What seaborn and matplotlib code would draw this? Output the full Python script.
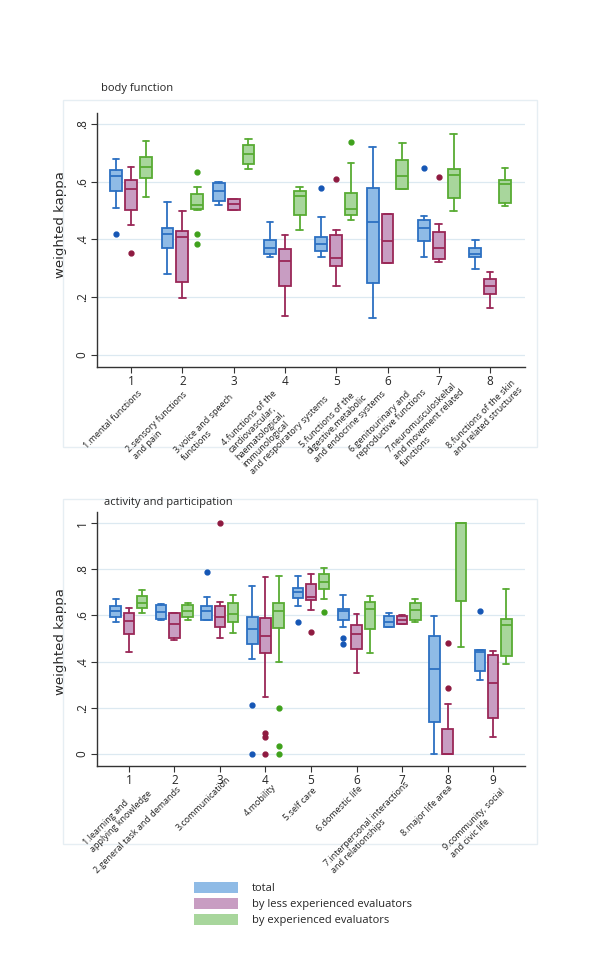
import numpy as np
import matplotlib.pyplot as plt
import seaborn as sns
from matplotlib.patches import Patch, Rectangle

# box statistics: [whisker low, q1, median, q3, whisker high]
bf_total = [[0.509, 0.569, 0.620, 0.640, 0.679],
            [0.279, 0.369, 0.419, 0.439, 0.529],
            [0.518, 0.533, 0.569, 0.595, 0.598],
            [0.339, 0.350, 0.369, 0.398, 0.459],
            [0.339, 0.359, 0.384, 0.409, 0.479],
            [0.129, 0.249, 0.459, 0.578, 0.719],
            [0.339, 0.395, 0.440, 0.469, 0.480],
            [0.299, 0.339, 0.350, 0.369, 0.399]]
bf_total_out = [[0.419], [], [], [], [0.578], [], [0.649], []]
bf_less = [[0.450, 0.503, 0.573, 0.605, 0.650],
           [0.197, 0.252, 0.408, 0.428, 0.498],
           [0.503, 0.503, 0.523, 0.540, 0.540],
           [0.136, 0.239, 0.324, 0.366, 0.417],
           [0.239, 0.308, 0.334, 0.414, 0.431],
           [0.319, 0.319, 0.395, 0.487, 0.487],
           [0.321, 0.332, 0.371, 0.424, 0.454],
           [0.164, 0.211, 0.238, 0.263, 0.286]]
bf_less_out = [[0.353], [], [], [], [0.611], [], [0.616], []]
bf_exp = [[0.548, 0.614, 0.651, 0.685, 0.741],
          [0.503, 0.507, 0.519, 0.556, 0.582],
          [0.644, 0.663, 0.695, 0.726, 0.747],
          [0.433, 0.486, 0.552, 0.568, 0.583],
          [0.466, 0.483, 0.504, 0.561, 0.664],
          [0.576, 0.576, 0.619, 0.676, 0.734],
          [0.500, 0.545, 0.623, 0.645, 0.765],
          [0.516, 0.525, 0.592, 0.606, 0.646]]
bf_exp_out = [[], [0.633, 0.418, 0.384], [], [], [0.739], [], [], []]

ap_total = [[0.570, 0.592, 0.621, 0.640, 0.670],
            [0.580, 0.586, 0.615, 0.644, 0.648],
            [0.580, 0.580, 0.621, 0.640, 0.680],
            [0.410, 0.475, 0.540, 0.595, 0.729],
            [0.640, 0.676, 0.700, 0.719, 0.770],
            [0.551, 0.580, 0.618, 0.630, 0.690],
            [0.551, 0.551, 0.570, 0.599, 0.609],
            [0.000, 0.140, 0.369, 0.509, 0.599],
            [0.320, 0.359, 0.443, 0.451, 0.451]]
ap_total_out = [[], [], [0.790], [0.210, 0.0], [0.570], [0.501, 0.478], [], [], [0.621]]
ap_less = [[0.441, 0.521, 0.577, 0.611, 0.634],
           [0.493, 0.504, 0.562, 0.612, 0.612],
           [0.501, 0.548, 0.595, 0.643, 0.660],
           [0.246, 0.438, 0.511, 0.588, 0.767],
           [0.622, 0.667, 0.682, 0.737, 0.780],
           [0.349, 0.454, 0.518, 0.557, 0.605],
           [0.563, 0.563, 0.580, 0.598, 0.601],
           [0.000, 0.000, 0.000, 0.109, 0.217],
           [0.072, 0.155, 0.307, 0.430, 0.444]]
ap_less_out = [[], [], [1.0], [0.090, 0.071, 0.0], [0.527], [], [], [0.480, 0.287], []]
ap_exp = [[0.612, 0.632, 0.653, 0.686, 0.709],
          [0.580, 0.593, 0.621, 0.644, 0.654],
          [0.525, 0.570, 0.605, 0.656, 0.690],
          [0.399, 0.544, 0.621, 0.653, 0.773],
          [0.671, 0.716, 0.744, 0.781, 0.806],
          [0.438, 0.540, 0.628, 0.660, 0.685],
          [0.570, 0.582, 0.625, 0.656, 0.670],
          [0.462, 0.661, 1.000, 1.000, 1.000],
          [0.391, 0.424, 0.560, 0.583, 0.716]]
ap_exp_out = [[], [], [], [0.200, 0.032, 0.0], [0.614], [], [], [], []]

bf_labels = ["1.mental functions", "2.sensory functions\nand pain",
             "3.voice and speech\nfunctions",
             "4.functions of the\ncardiovascular,\nhaematological,\nimmunological\nand respoiratory systems",
             "5.functions of the\ndigestive,metabolic\nand endocrine systems",
             "6.genitourinary and\nreproductive functions",
             "7.neuromusculoskeltal\nand movement related\nfunctions",
             "8.functions of the skin\nand related structures"]
ap_labels = ["1.learning and\napplying knowledge", "2.general task and demands",
             "3.communication", "4.mobility", "5.self care", "6.domestic life",
             "7.interpersonal interactions\nand relationships", "8.major life area",
             "9.community, social\nand civic life"]
series_names = ["total", "by less experienced evaluators", "by experienced evaluators"]

edge_cols = ["#2c70c2", "#9a2757", "#58ab33"]
fill_cols = ["#8fbbe6", "#c89dc2", "#a8d69c"]
dot_cols = ["#1556b5", "#8e1a40", "#3fa11c"]

sns.set_style("white")
plt.rcParams['font.family'] = ['Open Sans', 'DejaVu Sans']

fig = plt.figure(figsize=(6, 9.6), dpi=100)

# light frames around each graph region
for y0, y1 in [(100, 447), (499, 844)]:
    fig.patches.append(Rectangle((63 / 600, 1 - y1 / 960), 474 / 600, (y1 - y0) / 960,
                                 transform=fig.transFigure, fill=False,
                                 edgecolor="#e6eef3", lw=1.0))


def draw_panel(ax, groups, outs, ticks, ylim, xlim):
    n = len(groups[0])
    base = np.arange(1, n + 1)
    for j, (g, o) in enumerate(zip(groups, outs)):
        stats = [dict(whislo=s[0], q1=s[1], med=s[2], q3=s[3], whishi=s[4], fliers=f)
                 for s, f in zip(g, o)]
        ax.bxp(stats, positions=base + (j - 1) * 0.29, widths=0.23, capwidths=0.13,
               patch_artist=True, manage_ticks=False,
               boxprops=dict(facecolor=fill_cols[j], edgecolor=edge_cols[j], linewidth=1.3),
               whiskerprops=dict(color=edge_cols[j], linewidth=1.3),
               capprops=dict(color=edge_cols[j], linewidth=1.3),
               medianprops=dict(color=edge_cols[j], linewidth=1.3),
               flierprops=dict(marker='o', markerfacecolor=dot_cols[j],
                               markeredgecolor=dot_cols[j], markersize=3.5))
    ax.set_xlim(*xlim)
    ax.set_ylim(*ylim)
    ax.set_xticks(base)
    ax.set_xticklabels([str(b) for b in base], fontsize=8.5)
    ax.set_yticks(ticks)
    ax.set_yticklabels([("%g" % t).replace("0.", ".") for t in ticks],
                       fontsize=8.5, rotation=90, va='center')
    for t in ticks:
        ax.axhline(t, color="#dce9f1", lw=0.9, zorder=0)
    sns.despine(ax=ax)
    for s in ["left", "bottom"]:
        ax.spines[s].set_color("#333333")
        ax.spines[s].set_linewidth(1.0)
    ax.tick_params(axis='both', direction='out', length=4, width=0.8, color="#333333",
                   left=True, bottom=True, pad=2)
    ax.set_ylabel("weighted kappa", family="DejaVu Sans", fontsize=9.5)


ax1 = fig.add_axes([97 / 600, 1 - 367 / 960, 428 / 600, 254 / 960])
draw_panel(ax1, [bf_total, bf_less, bf_exp], [bf_total_out, bf_less_out, bf_exp_out],
           [0, 0.2, 0.4, 0.6, 0.8], (-0.042, 0.838), (0.337, 8.68))
ax1.yaxis.set_label_coords(-0.07, 0.56)
fig.text(101 / 600, 1 - 89 / 960, "body function", fontsize=8, va='center')

ax2 = fig.add_axes([97 / 600, 1 - 766 / 960, 428 / 600, 254 / 960])
draw_panel(ax2, [ap_total, ap_less, ap_exp], [ap_total_out, ap_less_out, ap_exp_out],
           [0, 0.2, 0.4, 0.6, 0.8, 1.0], (-0.053, 1.049), (0.30, 9.70))
ax2.yaxis.set_label_coords(-0.07, 0.49)
fig.text(104 / 600, 1 - 502 / 960, "activity and participation", fontsize=8, va='center')

# rotated category descriptions, anchored at the start of their first line
bf_pos = [(82, 444), (125, 448), (173, 449), (220, 441), (298, 443), (348, 448),
          (385, 448), (445, 444)]
ap_pos = [(82, 841), (93, 869), (175, 826), (242, 812), (282, 816), (315, 827),
          (323, 862), (400, 832), (442, 846)]
for labels, pos in [(bf_labels, bf_pos), (ap_labels, ap_pos)]:
    for lab, (px, py) in zip(labels, pos):
        fig.text(px / 600, 1 - py / 960, lab, fontsize=6.5, rotation=45,
                 rotation_mode='anchor', ha='left', va='top', multialignment='left',
                 linespacing=1.15, color="#222222")

handles = [Patch(facecolor=c, edgecolor='none') for c in fill_cols]
fig.legend(handles, series_names, loc='upper left', bbox_to_anchor=(194 / 600, 1 - 882 / 960),
           frameon=False, fontsize=8, handlelength=4.0, handleheight=1.1,
           handletextpad=1.2, labelspacing=0.35, borderpad=0, borderaxespad=0)

fig.savefig("out.png", dpi=100, facecolor="white")
